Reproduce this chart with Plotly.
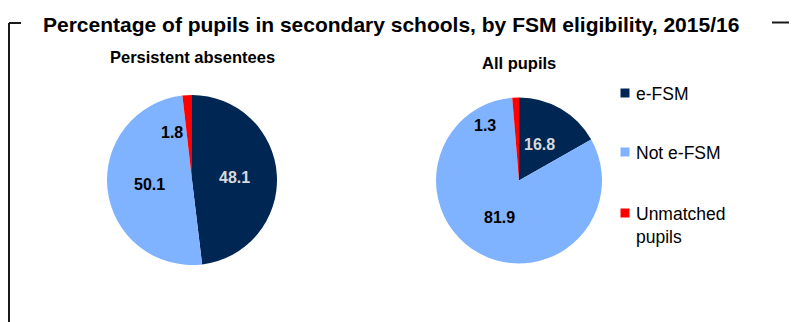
import math
import plotly.graph_objects as go

# Data
categories = ["e-FSM", "Not e-FSM", "Unmatched pupils"]
legend_labels = ["e-FSM", "Not e-FSM", "Unmatched<br>pupils"]
persistent_absentees = [48.1, 50.1, 1.8]
all_pupils = [16.8, 81.9, 1.3]
panel_titles = ["Persistent absentees", "All pupils"]
colors = ["#002654", "#7fb3ff", "#ff0000"]
label_colors = ["#d9d9d9", "#000000", "#000000"]

W, H = 795, 322
FONT = "Liberation Sans, Arial, sans-serif"

# Pie geometry in pixels: centre x, centre y, radius
pies = [
    dict(values=persistent_absentees, title=panel_titles[0], cx=192, cy=180, r=85, ty=57,
         small_offset=(-20, -48)),
    dict(values=all_pupils, title=panel_titles[1], cx=519, cy=180.5, r=83, ty=63,
         small_offset=(-34, -55)),
]


def fx(px):
    return px / W


def fy(py):
    return 1 - py / H


fig = go.Figure()
annotations = []

for p in pies:
    cx, cy, r = p["cx"], p["cy"], p["r"]
    fig.add_trace(go.Pie(
        labels=categories,
        values=p["values"],
        sort=False,
        direction="clockwise",
        rotation=0,
        marker=dict(colors=colors, line=dict(width=0)),
        textinfo="none",
        hoverinfo="label+value",
        showlegend=False,
        domain=dict(x=[fx(cx - r), fx(cx + r)], y=[fy(cy + r), fy(cy - r)]),
    ))
    # panel title
    annotations.append(dict(
        text=f"<b>{p['title']}</b>", x=fx(cx), y=fy(p["ty"]), xref="paper", yref="paper",
        showarrow=False, xanchor="center", yanchor="middle",
        font=dict(family=FONT, size=16.5, color="#000000"),
    ))
    # value labels: large slices at half radius along the bisector
    total = sum(p["values"])
    cum = 0.0
    for i, v in enumerate(p["values"]):
        mid = (cum + v / 2) / total
        cum += v
        if v / total >= 0.05:
            ang = 2 * math.pi * mid
            lx = cx + 0.5 * r * math.sin(ang)
            ly = cy - 0.5 * r * math.cos(ang)
        else:
            lx = cx + p["small_offset"][0]
            ly = cy + p["small_offset"][1]
        annotations.append(dict(
            text=f"<b>{v:.1f}</b>", x=fx(lx), y=fy(ly), xref="paper", yref="paper",
            showarrow=False, xanchor="center", yanchor="middle",
            font=dict(family=FONT, size=16, color=label_colors[i]),
        ))

# Legend: coloured squares with labels
legend_x, legend_ys = 625, [93, 152, 213]
shapes = []
for lab, col, ly in zip(legend_labels, colors, legend_ys):
    s = 4.5
    shapes.append(dict(type="rect", xref="paper", yref="paper",
                       x0=fx(legend_x - s), x1=fx(legend_x + s),
                       y0=fy(ly + s), y1=fy(ly - s),
                       fillcolor=col, line=dict(width=0)))
    annotations.append(dict(
        text=lab, x=fx(legend_x + 9), y=fy(ly - 11), xref="paper", yref="paper",
        showarrow=False, xanchor="left", yanchor="top", align="left",
        font=dict(family=FONT, size=17.5, color="#000000"),
    ))

# Chart title
annotations.append(dict(
    text="<b>Percentage of pupils in secondary schools, by FSM eligibility, 2015/16</b>",
    x=fx(41), y=fy(25), xref="paper", yref="paper", showarrow=False,
    xanchor="left", yanchor="middle",
    font=dict(family=FONT, size=21, color="#000000"),
))

# Frame lines
line = dict(color="#1a1a1a", width=2)
shapes += [
    dict(type="line", xref="paper", yref="paper", x0=fx(9), x1=fx(9), y0=fy(23), y1=fy(322), line=line),
    dict(type="line", xref="paper", yref="paper", x0=fx(9), x1=fx(21), y0=fy(23), y1=fy(23), line=line),
    dict(type="line", xref="paper", yref="paper", x0=fx(772), x1=fx(789), y0=fy(22.5), y1=fy(22.5), line=line),
]

fig.update_layout(
    width=W, height=H,
    margin=dict(l=0, r=0, t=0, b=0),
    paper_bgcolor="white", plot_bgcolor="white",
    annotations=annotations, shapes=shapes,
    showlegend=False,
)

fig.write_html("out.html")
